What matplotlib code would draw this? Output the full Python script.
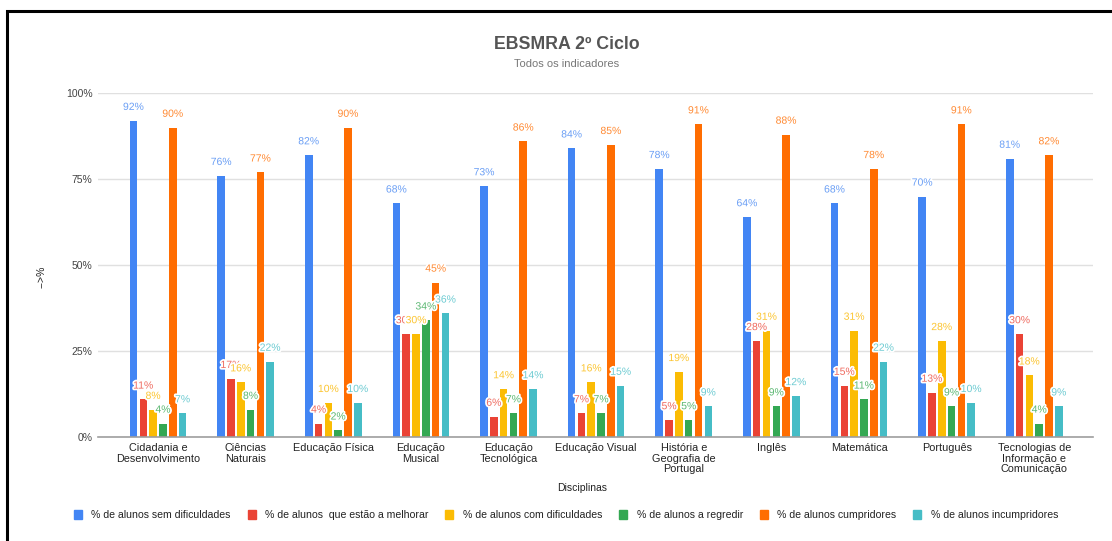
import matplotlib
matplotlib.use("Agg")
import matplotlib.pyplot as plt
import matplotlib.patheffects as pe
from matplotlib.patches import Rectangle, Patch
import numpy as np

plt.rcParams['font.family'] = ['Liberation Sans', 'DejaVu Sans']

categories = ["Cidadania e\nDesenvolvimento", "Ciências\nNaturais", "Educação Física",
              "Educação\nMusical", "Educação\nTecnológica", "Educação Visual",
              "História e\nGeografia de\nPortugal", "Inglês", "Matemática", "Português",
              "Tecnologias de\nInformação e\nComunicação"]
series_names = ["% de alunos sem dificuldades", "% de alunos  que estão a melhorar",
                "% de alunos com dificuldades", "% de alunos a regredir",
                "% de alunos cumpridores", "% de alunos incumpridores"]
sem_dificuldades = [92, 76, 82, 68, 73, 84, 78, 64, 68, 70, 81]
a_melhorar = [11, 17, 4, 30, 6, 7, 5, 28, 15, 13, 30]
com_dificuldades = [8, 16, 10, 30, 14, 16, 19, 31, 31, 28, 18]
a_regredir = [4, 8, 2, 34, 7, 7, 5, 9, 11, 9, 4]
cumpridores = [90, 77, 90, 45, 86, 85, 91, 88, 78, 91, 82]
incumpridores = [7, 22, 10, 36, 14, 15, 9, 12, 22, 10, 9]
series = [sem_dificuldades, a_melhorar, com_dificuldades, a_regredir, cumpridores, incumpridores]
colors = ["#4285F4", "#EA4335", "#FBBC04", "#34A853", "#FF6D01", "#46BDC6"]
label_colors = ["#6b9ff5", "#ef6a5f", "#fcc531", "#5cb873", "#ff8a33", "#6dcbd2"]
yticks = [0, 25, 50, 75, 100]

fig = plt.figure(figsize=(11.12, 5.41), dpi=100)
ax = fig.add_axes([98/1112, 1-437.3/541, (1093-98)/1112, (437.3-93.3)/541])

x = np.arange(len(categories))
pitch = 0.112
width = 0.086
for i, (vals, col, lcol, name) in enumerate(zip(series, colors, label_colors, series_names)):
    xs = x + (i - 2.5) * pitch
    ax.bar(xs, vals, width=width, color=col, label=name, zorder=2)
    for xi, v in zip(xs, vals):
        ax.annotate(f"{v}%", (xi, v), xytext=(0, 10), textcoords="offset points",
                    ha="center", va="center", fontsize=7.5, color=lcol, zorder=5 + i,
                    path_effects=[pe.withStroke(linewidth=2.5, foreground="white")])

ax.set_xlim(-0.685, 10.67)
ax.set_ylim(0, 100)
ax.set_yticks(yticks)
ax.set_yticklabels([f"{t}%" for t in yticks], fontsize=7.5, color="#444444")
ax.set_xticks(x)
ax.set_xticklabels(categories, fontsize=7.8, color="#222222", linespacing=1.1)
ax.tick_params(axis="both", length=0)
ax.tick_params(axis="x", pad=4)
ax.tick_params(axis="y", pad=4)
ax.grid(axis="y", color="#e0e0e0", linewidth=1, zorder=0)
ax.set_axisbelow(True)
for s in ["left", "right", "top"]:
    ax.spines[s].set_visible(False)
ax.spines["bottom"].set_color("#9e9e9e")
ax.spines["bottom"].set_linewidth(1.2)
ax.spines["bottom"].set_zorder(3)

fig.text(582/1112, 1-488/541, "Disciplinas", ha="center", va="center",
         fontsize=7.5, color="#222222")
fig.text(42/1112, 1-277/541, "-->%", rotation=90, ha="center", va="center",
         fontsize=7.5, color="#222222")

fig.text(567/1112, 1-45/541, "EBSMRA 2º Ciclo", ha="center", va="center",
         fontsize=12.8, fontweight="bold", color="#555555")
fig.text(567/1112, 1-64/541, "Todos os indicadores", ha="center", va="center",
         fontsize=8, color="#777777")

handles = [Patch(facecolor=c, edgecolor=c) for c in colors]
fig.legend(handles, series_names, loc="center", bbox_to_anchor=(566/1112, 1-515/541),
           ncol=6, frameon=False, fontsize=7.6, handlelength=0.75, handleheight=1.0,
           handletextpad=0.9, columnspacing=1.6, labelcolor="#222222")

fig.patches.append(Rectangle((7/1112, -0.05), 1.2, 1-11/541 + 0.05, transform=fig.transFigure,
                             fill=False, edgecolor="black", linewidth=2.2, zorder=10))

fig.savefig("out.png", dpi=100)
